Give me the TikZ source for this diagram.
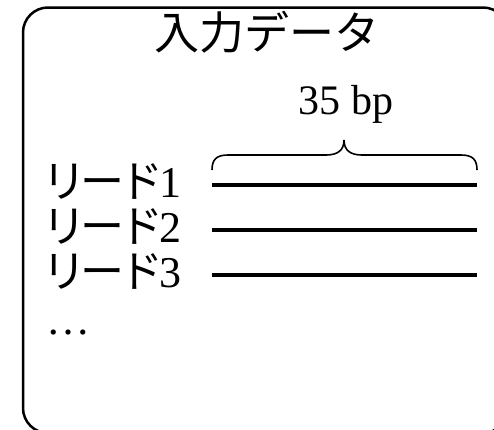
\documentclass[tikz,border=0pt]{standalone}
\usepackage{fontspec}
\setmainfont{Liberation Serif}
\newfontfamily\jp{Noto Sans CJK JP}
\newfontfamily\jpp[RawFeature=+palt]{Noto Sans CJK JP}
\begin{document}
\begin{tikzpicture}[x=1pt,y=-1pt,
  frame/.style={draw,line width=2.5pt,rounded corners=25pt,inner sep=0pt},
  lbl/.style={anchor=base west,inner sep=0pt,font=\fontsize{44}{44}\selectfont},
  readline/.style={line width=4pt},
  bracepath/.style={line width=1.6pt}]
\useasboundingbox (0,0) rectangle (494,429);
\begin{scope}
\clip (0,0) rectangle (494,429);
\node[frame,minimum width=485pt,minimum height=425.5pt] (box) at (265.5,220.25) {};
\end{scope}
\node[anchor=base,inner sep=0pt,font=\jp\fontsize{45}{45}\selectfont] (title) at (267,49) {入力データ};
\node[anchor=base,inner sep=0pt,font=\fontsize{42}{42}\selectfont] (len) at (346,114) {35 bp};
\node[lbl] (r1) at (45,197) {{\jpp リード}1};
\node[lbl] (r2) at (45,242) {{\jpp リード}2};
\node[lbl] (r3) at (45,287) {{\jpp リード}3};
\node[lbl] (dots) at (46,334) {…};
\coordinate (a1) at (212,185); \coordinate (b1) at (477,185);
\coordinate (a2) at (212,230); \coordinate (b2) at (477,230);
\coordinate (a3) at (212,275); \coordinate (b3) at (477,275);
\draw[readline] (a1) -- (b1);
\draw[readline] (a2) -- (b2);
\draw[readline] (a3) -- (b3);
\coordinate (bl) at (212,170); \coordinate (br) at (477,170); \coordinate (tip) at (344,140);
\draw[bracepath] (bl) .. controls (212,160) and (216,155) .. (228,155) -- (326,155)
  .. controls (338,155) and (344,150) .. (tip)
  .. controls (344,150) and (350,155) .. (362,155) -- (461,155)
  .. controls (473,155) and (477,160) .. (br);
\end{tikzpicture}
\end{document}
